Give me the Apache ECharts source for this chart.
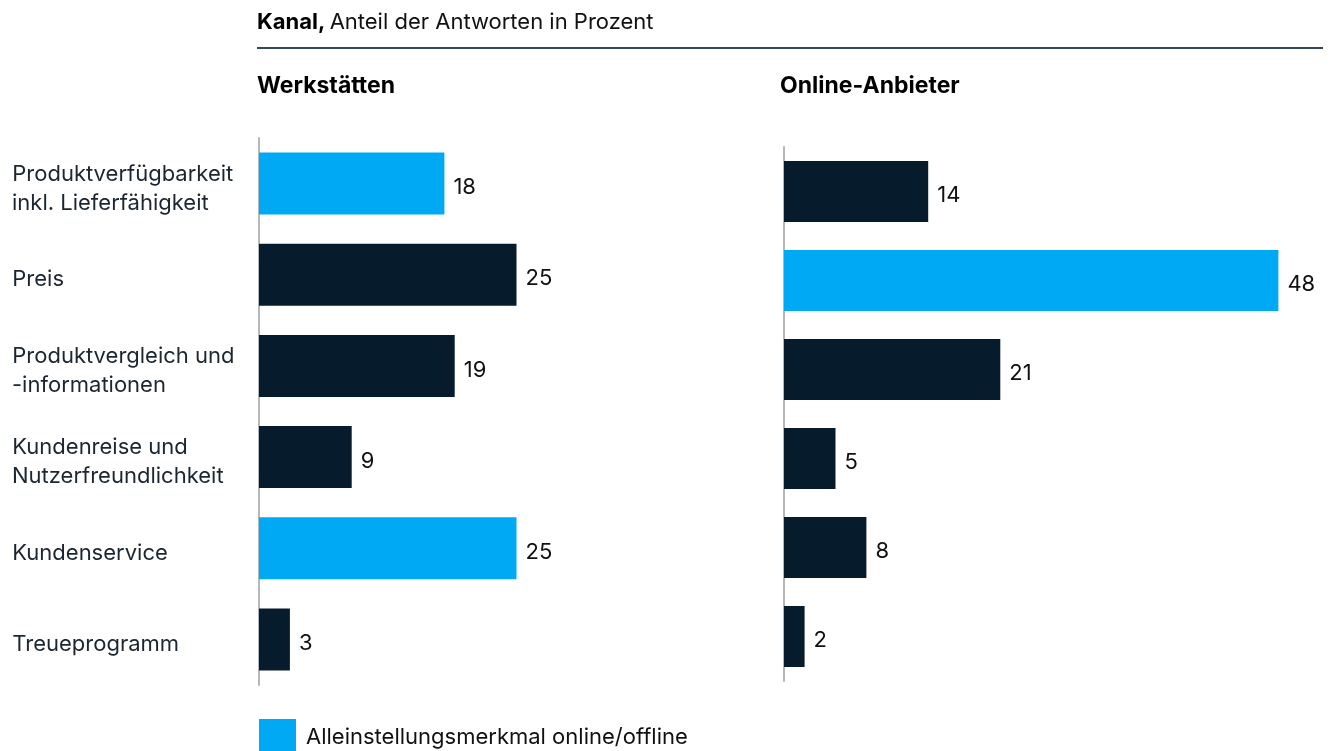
<!DOCTYPE html>
<html lang="de">
<head>
<meta charset="utf-8">
<title>Kanal, Anteil der Antworten in Prozent</title>
<script src="https://cdn.jsdelivr.net/npm/echarts@6/dist/echarts.min.js"></script>
<style>
  html, body { margin: 0; padding: 0; background: #ffffff; }
  #chart { width: 1333px; height: 751px; }
</style>
</head>
<body>
<div id="chart"></div>
<script>
// Kategorien (von oben nach unten)
const categories = [
  'Produktverfügbarkeit\ninkl. Lieferfähigkeit',
  'Preis',
  'Produktvergleich und\n-informationen',
  'Kundenreise und\nNutzerfreundlichkeit',
  'Kundenservice',
  'Treueprogramm'
];

// Anteil der Antworten in Prozent
const werkstaettenValues = [18, 25, 19, 9, 25, 3];
const onlineValues = [14, 48, 21, 5, 8, 2];

// true = Alleinstellungsmerkmal online/offline
const werkstaettenUSP = [true, false, false, false, true, false];
const onlineUSP = [false, true, false, false, false, false];

const panelTitles = ['Werkstätten', 'Online-Anbieter'];
const legendLabel = 'Alleinstellungsmerkmal online/offline';
const headline = ['Kanal,', 'Anteil der Antworten in Prozent'];

const FONT = 'Inter, "Liberation Sans", Arial, sans-serif';
const DARK = '#061c2c';
const BLUE = '#00a9f4';
const TEXT = '#1b2631';
const FS = 22;

function split(values, flags, want) {
  return values.map((v, i) => (flags[i] === want ? v : '-'));
}

// Category label: a slim spacer on the first line nudges the text block a little lower
function categoryLabel(value) {
  const lines = value.split('\n');
  return lines.map((l, i) => (i === 0 ? '{s| }' : '') + '{t|' + l + '}').join('\n');
}

function barSeries(name, idx, data, color, width) {
  return {
    name: name,
    type: 'bar',
    xAxisIndex: idx,
    yAxisIndex: idx,
    stack: 'panel' + idx,
    barWidth: width,
    data: data,
    itemStyle: { color: color },
    label: {
      show: true,
      position: 'right',
      distance: 9,
      offset: [0, 4],
      color: '#111111',
      fontFamily: FONT,
      fontSize: FS
    },
    emphasis: { disabled: true },
    animation: false
  };
}

const chart = echarts.init(document.getElementById('chart'), null, { renderer: 'canvas' });

const option = {
  backgroundColor: '#ffffff',
  textStyle: { fontFamily: FONT },
  title: [
    {
      left: 252, top: 6,
      text: '{b|' + headline[0] + '} {n|' + headline[1] + '}',
      textStyle: {
        rich: {
          b: { fontFamily: FONT, fontSize: FS, fontWeight: 'bold', color: '#000000' },
          n: { fontFamily: FONT, fontSize: FS, fontWeight: 'normal', color: '#111111' }
        }
      }
    },
    {
      left: 252, top: 70,
      text: panelTitles[0],
      textStyle: { fontFamily: FONT, fontSize: 23, fontWeight: 'bold', color: '#000000' }
    },
    {
      left: 775, top: 70,
      text: panelTitles[1],
      textStyle: { fontFamily: FONT, fontSize: 23, fontWeight: 'bold', color: '#000000' }
    }
  ],
  graphic: [
    {
      type: 'line',
      shape: { x1: 257, y1: 48, x2: 1323, y2: 48 },
      style: { stroke: '#35475a', lineWidth: 2 },
      silent: true
    }
  ],
  legend: {
    data: [legendLabel],
    left: 254,
    top: 714,
    icon: 'rect',
    itemWidth: 37,
    itemHeight: 37,
    itemGap: 10,
    selectedMode: false,
    textStyle: { fontFamily: FONT, fontSize: FS, color: '#111111', padding: [6, 0, 0, 5] }
  },
  grid: [
    { left: 259, top: 138, width: 412, height: 547 },
    { left: 784, top: 147, width: 515, height: 534 }
  ],
  xAxis: [
    { gridIndex: 0, type: 'value', min: 0, max: 40, show: false },
    { gridIndex: 1, type: 'value', min: 0, max: 50, show: false }
  ],
  yAxis: [
    {
      gridIndex: 0,
      type: 'category',
      inverse: true,
      data: categories,
      axisLine: { show: true, lineStyle: { color: '#b5b8bb', width: 2 } },
      axisTick: { show: false },
      splitLine: { show: false },
      axisLabel: {
        align: 'left',
        margin: 247,
        formatter: categoryLabel,
        rich: {
          s: { fontSize: 1, lineHeight: 32 },
          t: {
            color: TEXT,
            fontFamily: FONT,
            fontSize: FS,
            lineHeight: 29,
            verticalAlign: 'bottom'
          }
        }
      }
    },
    {
      gridIndex: 1,
      type: 'category',
      inverse: true,
      data: categories,
      axisLine: { show: true, lineStyle: { color: '#b5b8bb', width: 2 } },
      axisTick: { show: false },
      splitLine: { show: false },
      axisLabel: { show: false }
    }
  ],
  series: [
    barSeries(legendLabel, 0, split(werkstaettenValues, werkstaettenUSP, true), BLUE, 62),
    barSeries('Werkstätten', 0, split(werkstaettenValues, werkstaettenUSP, false), DARK, 62),
    barSeries(legendLabel, 1, split(onlineValues, onlineUSP, true), BLUE, 61),
    barSeries('Online-Anbieter', 1, split(onlineValues, onlineUSP, false), DARK, 61)
  ]
};

chart.setOption(option);
</script>
</body>
</html>
